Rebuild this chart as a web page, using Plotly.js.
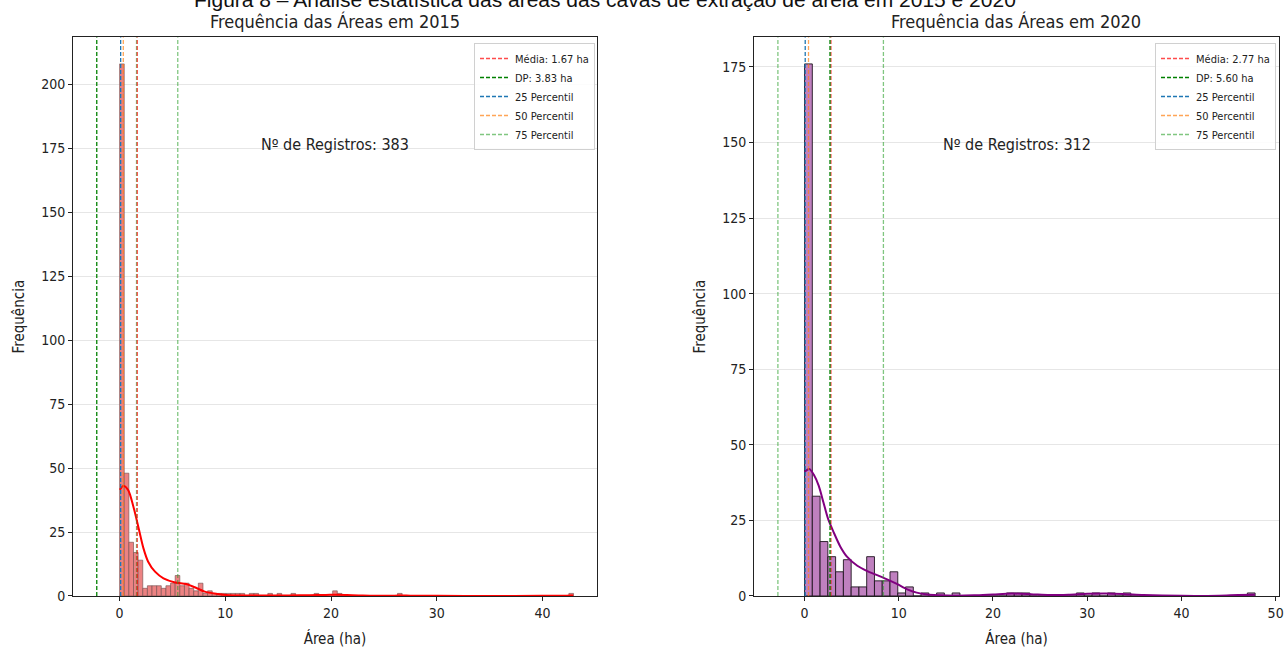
<!DOCTYPE html>
<html><head><meta charset="utf-8">
<script src="https://cdn.plot.ly/plotly-3.0.1.min.js"></script>
<style>html,body{margin:0;padding:0;background:#fff}#chart{width:1287px;height:649px}</style>
</head><body><div id="chart"></div>
<script>
// ---------- data ----------
const figureCaption = 'Figura 8 – Análise estatística das áreas das cavas de extração de areia em 2015 e 2020';
const titles = ['Frequência das Áreas em 2015', 'Frequência das Áreas em 2020'];
const registros = ['Nº de Registros: 383', 'Nº de Registros: 312'];

// histogram 2015 (bin start / width in ha, counts per bin)
const binStart2015 = 0.0, binWidth2015 = 0.438;
const counts2015 = [208,48,21,17,14,3,4,4,4,3, 4,5,8,4,5,3,2,5,1,2, 1,1,1,1,1,1,1,0,1,1, 0,0,1,0,1,0,0,1,0,0,
  0,0,1,0,0,0,2,1,0,0, 0,0,0,0,0,0,0,0,0,0, 1,0,0,0,0,0,0,0,0,0, 0,0,0,0,0,0,0,0,0,0,
  0,0,0,0,0,0,0,0,0,0, 0,0,0,0,0,0,0,1];
// histogram 2020
const binStart2020 = 0.0, binWidth2020 = 0.8245;
const counts2020 = [176,33,18,13,8,12,3,3,13,5, 5,8,1,3,0,1,0,1,0,1, 0,0,0,0,0,0,1,1,1,0,
  0,0,0,0,0,1,0,1,0,1, 0,1,0,0,0,0,0,0,0,0, 0,0,0,0,0,0,0,1];

// KDE curves
const kdeX2015 = [0.02,0.35,0.8,1.3,1.8,2.25,2.7,3.35,4.15,5.25,6.3,7.1,8.05,9.3,10.3,12,14,16,18,19.5,20.5,21.5,23,26,26.7,27.5,30,35,40,42,42.7,42.9];
const kdeY2015 = [41.5,43,41.5,35,26.5,18.7,13.4,9.5,6.9,5.3,4.7,3.4,1.7,0.8,0.3,0.2,0.2,0.2,0.3,0.4,0.5,0.4,0.2,0.1,0.2,0.1,0.05,0.03,0.05,0.1,0.15,0.15];
const kdeX2020 = [0.0,0.5,1.0,1.5,2.0,2.5,3.1,3.8,4.5,5.6,6.6,7.7,8.7,9.8,10.9,11.9,13.0,14.2,16,18,20,22,24,26,28,30,32,34,36,40,44,46,47.8];
const kdeY2020 = [41,42,40,36.5,31,25.5,21,16.3,13,10,8.3,6.9,5.6,4,2.2,1.1,0.5,0.25,0.1,0.2,0.5,0.8,0.6,0.3,0.4,0.7,0.8,0.6,0.3,0.05,0.1,0.3,0.4];

// vertical reference lines (legend order)
const lineLabels2015 = ['Média: 1.67 ha','DP: 3.83 ha','25 Percentil','50 Percentil','75 Percentil'];
const lineLabels2020 = ['Média: 2.77 ha','DP: 5.60 ha','25 Percentil','50 Percentil','75 Percentil'];
const lineX2015 = [1.67, -2.16, 0.10, 0.35, 5.50];
const lineX2020 = [2.80, 2.70, 0.07, 0.42, 8.37];
const extraLight2015 = [1.60];
const extraLight2020 = [-2.83];

// ---------- styles ----------
const lineColors = ['rgba(255,0,0,0.7)','#008000','#1f77b4','rgba(255,127,14,0.7)','rgba(44,160,44,0.6)'];
const yTop2015 = 218.4, yTop2020 = 184.8;
const DASH = '4px,2px';

function centers(start, w, n){ const a=[]; for(let i=0;i<n;i++) a.push(start + w*(i+0.5)); return a; }

const traces = [];
traces.push({type:'bar', x:centers(binStart2015,binWidth2015,counts2015.length), y:counts2015, width:binWidth2015,
  marker:{color:'rgb(236,130,130)', line:{color:'rgba(120,80,80,0.8)', width:0.8}}, xaxis:'x', yaxis:'y', showlegend:false, hoverinfo:'skip'});
traces.push({type:'bar', x:centers(binStart2020,binWidth2020,counts2020.length), y:counts2020, width:binWidth2020,
  marker:{color:'rgb(191,128,191)', line:{color:'rgba(30,20,30,0.9)', width:1}}, xaxis:'x2', yaxis:'y2', showlegend:false, hoverinfo:'skip'});
traces.push({type:'scatter', mode:'lines', x:kdeX2015, y:kdeY2015, line:{color:'#ff0000', width:2, shape:'spline', smoothing:0.8},
  xaxis:'x', yaxis:'y', showlegend:false, hoverinfo:'skip'});
traces.push({type:'scatter', mode:'lines', x:kdeX2020, y:kdeY2020, line:{color:'#800080', width:2, shape:'spline', smoothing:0.8},
  xaxis:'x2', yaxis:'y2', showlegend:false, hoverinfo:'skip'});

extraLight2015.forEach(v => traces.push({type:'scatter', mode:'lines', x:[v,v], y:[0,yTop2015], line:{color:lineColors[4], width:1.3, dash:DASH}, xaxis:'x', yaxis:'y', showlegend:false, hoverinfo:'skip'}));
extraLight2020.forEach(v => traces.push({type:'scatter', mode:'lines', x:[v,v], y:[0,yTop2020], line:{color:lineColors[4], width:1.3, dash:DASH}, xaxis:'x2', yaxis:'y2', showlegend:false, hoverinfo:'skip'}));

lineX2015.forEach((v,i) => traces.push({type:'scatter', mode:'lines', x:[v,v], y:[0,yTop2015], name:lineLabels2015[i],
  line:{color:lineColors[i], width:1.3, dash:DASH}, xaxis:'x', yaxis:'y', legend:'legend', hoverinfo:'skip'}));
lineX2020.forEach((v,i) => traces.push({type:'scatter', mode:'lines', x:[v,v], y:[0,yTop2020], name:lineLabels2020[i],
  line:{color:lineColors[i], width:1.3, dash:DASH}, xaxis:'x2', yaxis:'y2', legend:'legend2', hoverinfo:'skip'}));

const FONT = 'DejaVu Sans Condensed, DejaVu Sans, sans-serif';
const axBase = {showline:true, mirror:true, linecolor:'#222', linewidth:1, ticks:'outside', ticklen:4, tickcolor:'#222',
  tickfont:{size:14, color:'#222'}, zeroline:false};

const legendBase = {bgcolor:'rgba(255,255,255,0.85)', bordercolor:'#d0d0d0', borderwidth:1, font:{size:11, color:'#222'},
  xanchor:'right', yanchor:'top', tracegroupgap:0, itemwidth:30};

const layout = {
  width:1287, height:649, margin:{l:0,r:0,t:0,b:0}, paper_bgcolor:'#fff', plot_bgcolor:'#fff',
  font:{family:FONT, color:'#222'}, barmode:'overlay', bargap:0,
  xaxis:Object.assign({}, axBase, {domain:[0.0567,0.4639], range:[-4.41,45.15], dtick:10, tick0:0, showgrid:false, anchor:'y',
    title:{text:'Área (ha)', font:{size:15}, standoff:13}}),
  yaxis:Object.assign({}, axBase, {domain:[0.0817,0.9425], range:[0,yTop2015], dtick:25, tick0:0, showgrid:true, gridcolor:'#e6e6e6', anchor:'x',
    title:{text:'Frequência', font:{size:15}, standoff:12}}),
  xaxis2:Object.assign({}, axBase, {domain:[0.5859,0.9938], range:[-5.36,50.36], dtick:10, tick0:0, showgrid:false, anchor:'y2',
    title:{text:'Área (ha)', font:{size:15}, standoff:13}}),
  yaxis2:Object.assign({}, axBase, {domain:[0.0817,0.9425], range:[0,yTop2020], dtick:25, tick0:0, showgrid:true, gridcolor:'#e6e6e6', anchor:'x2',
    title:{text:'Frequência', font:{size:15}, standoff:12}}),
  legend:Object.assign({}, legendBase, {x:595/1287, y:(649-43)/649}),
  legend2:Object.assign({}, legendBase, {x:1276/1287, y:(649-43)/649}),
  annotations:[
    {text:figureCaption, xref:'paper', yref:'paper', x:605/1287, y:1-13/649, xanchor:'center', yanchor:'bottom', showarrow:false,
      font:{family:'Liberation Sans, Arial, sans-serif', size:21, color:'#111'}},
    {text:titles[0], xref:'paper', yref:'paper', x:0.2603, y:1-34/649, xanchor:'center', yanchor:'bottom', showarrow:false, font:{size:18, color:'#222'}},
    {text:titles[1], xref:'paper', yref:'paper', x:0.7898, y:1-34/649, xanchor:'center', yanchor:'bottom', showarrow:false, font:{size:18, color:'#222'}},
    {text:registros[0], xref:'x domain', yref:'y domain', x:0.5, y:0.809, xanchor:'center', yanchor:'middle', showarrow:false, font:{size:16, color:'#222'}},
    {text:registros[1], xref:'x2 domain', yref:'y2 domain', x:0.5, y:0.809, xanchor:'center', yanchor:'middle', showarrow:false, font:{size:16, color:'#222'}}
  ]
};
Plotly.newPlot('chart', traces, layout, {displayModeBar:false, staticPlot:true});
</script></body></html>
